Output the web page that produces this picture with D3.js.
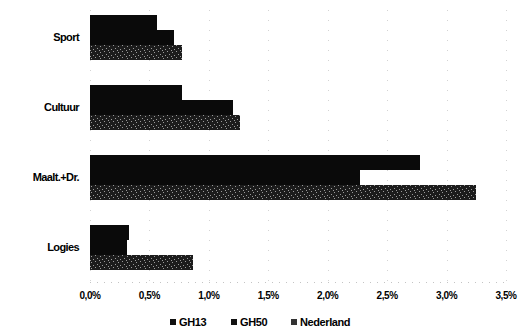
<!DOCTYPE html>
<html>
<head>
<meta charset="utf-8">
<script src="https://cdn.jsdelivr.net/npm/d3@7"></script>
<style>
  body { margin: 0; background: #fff; }
  svg text { font-family: "Liberation Sans", Arial, sans-serif; fill: #000; }
</style>
</head>
<body>
<div id="chart"></div>
<script>
var categories = ["Sport", "Cultuur", "Maalt.+Dr.", "Logies"],
    seriesNames = ["GH13", "GH50", "Nederland"],
    gh13 = [0.56, 0.77, 2.78, 0.33],
    gh50 = [0.71, 1.20, 2.27, 0.31],
    nederland = [0.77, 1.26, 3.25, 0.87],
    xTicks = [0, 0.5, 1, 1.5, 2, 2.5, 3, 3.5];

var seriesValues = [gh13, gh50, nederland];

var width = 523, height = 329,
    margin = {top: 2, right: 17, bottom: 47, left: 90};

var svg = d3.select("#chart").append("svg")
    .attr("width", width)
    .attr("height", height);

// speckled fill for the Nederland bars (scanned look)
var defs = svg.append("defs");
var pat = defs.append("pattern")
    .attr("id", "speckle")
    .attr("patternUnits", "userSpaceOnUse")
    .attr("width", 9).attr("height", 6);
pat.append("rect").attr("width", 9).attr("height", 6).attr("fill", "#1c1c1c");
[[1, 1], [5, 0], [7, 3], [3, 4], [0, 5]].forEach(function(p) {
  pat.append("rect").attr("x", p[0]).attr("y", p[1])
    .attr("width", 1).attr("height", 1).attr("fill", "#9a9a9a");
});

var fills = ["#0a0a0a", "#0a0a0a", "url(#speckle)"];

var x = d3.scaleLinear()
    .domain([0, 3.5])
    .range([margin.left, width - margin.right]);

var y = d3.scaleBand()
    .domain(categories)
    .range([margin.top, height - margin.bottom])
    .paddingInner(0.36)
    .paddingOuter(0.18)
    .round(true);

var ySub = d3.scaleBand()
    .domain(seriesNames)
    .range([0, y.bandwidth()])
    .round(true);

var nl = d3.formatLocale({decimal: ",", thousands: ".", grouping: [3], currency: ["", "€"]});
var fmt = function(d) { return nl.format(".1f")(d) + "%"; };

// faint dotted gridlines
svg.append("g").selectAll("line")
    .data(xTicks)
    .enter().append("line")
    .attr("x1", function(d) { return Math.round(x(d)) + 0.5; })
    .attr("x2", function(d) { return Math.round(x(d)) + 0.5; })
    .attr("y1", margin.top + 8)
    .attr("y2", height - margin.bottom)
    .attr("stroke", "#d4d4d4")
    .attr("stroke-width", 1)
    .attr("stroke-dasharray", "1,9");

svg.append("line")
    .attr("x1", x(0)).attr("x2", x(3.5))
    .attr("y1", height - margin.bottom + 0.5).attr("y2", height - margin.bottom + 0.5)
    .attr("stroke", "#c4c4c4")
    .attr("stroke-dasharray", "1,6");

// bars
var groups = svg.append("g").selectAll("g")
    .data(categories)
    .enter().append("g")
    .attr("transform", function(d) { return "translate(0," + y(d) + ")"; });

groups.selectAll("rect")
    .data(function(d, i) {
      return seriesNames.map(function(s, j) { return {s: s, v: seriesValues[j][i], j: j}; });
    })
    .enter().append("rect")
    .attr("x", x(0))
    .attr("y", function(d) { return ySub(d.s); })
    .attr("width", function(d) { return x(d.v) - x(0); })
    .attr("height", ySub.bandwidth())
    .attr("shape-rendering", "crispEdges")
    .attr("fill", function(d) { return fills[d.j]; });

// category labels
svg.append("g").selectAll("text")
    .data(categories)
    .enter().append("text")
    .attr("x", margin.left - 11)
    .attr("y", function(d) { return y(d) + y.bandwidth() / 2; })
    .attr("dy", "0.35em")
    .attr("text-anchor", "end")
    .attr("font-size", 11)
    .attr("font-weight", "bold")
    .attr("letter-spacing", -0.6)
    .text(function(d) { return d; });

// x tick labels
svg.append("g").selectAll("text")
    .data(xTicks)
    .enter().append("text")
    .attr("x", function(d) { return x(d); })
    .attr("y", 299)
    .attr("text-anchor", "middle")
    .attr("font-size", 10)
    .attr("font-weight", "bold")
    .attr("letter-spacing", -0.4)
    .text(fmt);

// legend
var legendX = [170, 231, 291];
var legend = svg.append("g").selectAll("g")
    .data(seriesNames)
    .enter().append("g")
    .attr("transform", function(d, i) { return "translate(" + legendX[i] + ",322)"; });

legend.append("rect")
    .attr("x", 0).attr("y", -3)
    .attr("width", 6).attr("height", 6)
    .attr("fill", function(d, i) { return i == 2 ? "#333" : "#111"; });

legend.append("text")
    .attr("x", 9)
    .attr("dy", "0.36em")
    .attr("font-size", 11)
    .attr("font-weight", "bold")
    .attr("letter-spacing", -0.4)
    .text(function(d) { return d; });
</script>
</body>
</html>
